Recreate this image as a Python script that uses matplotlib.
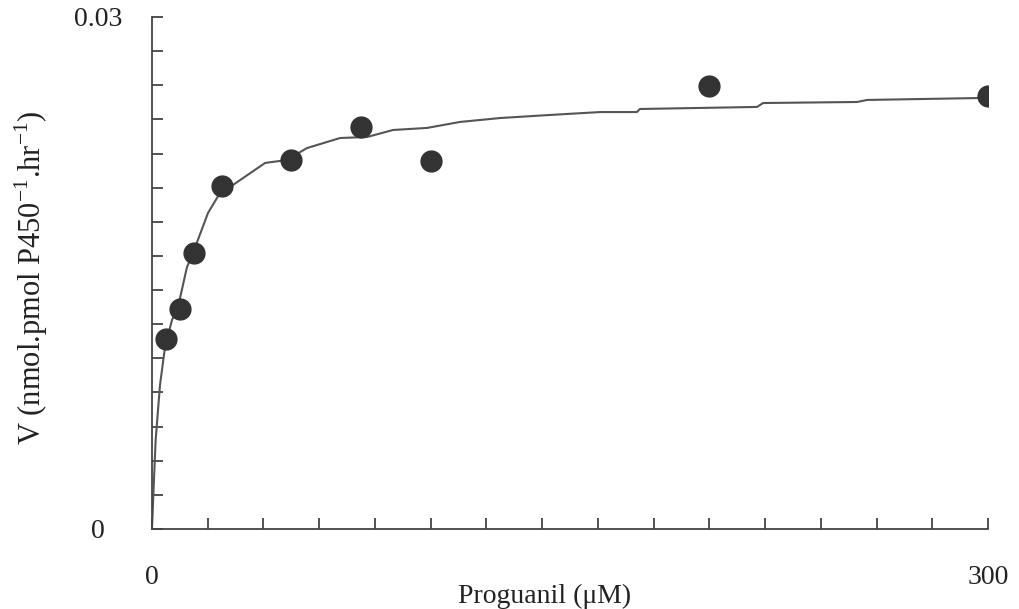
import matplotlib
matplotlib.use('Agg')
import matplotlib.pyplot as plt
import numpy as np

# measured points
conc = [5, 10, 15, 25, 50, 75, 100, 200, 300]
rate = [0.01113, 0.01289, 0.01617, 0.0201, 0.02162, 0.02355, 0.02156, 0.02596, 0.02537]

# fitted curve
fit_x = [0, 0.36, 1.3, 2.87, 4.67, 7.18, 9.33, 12.56, 14.71, 20.1, 24.4, 28.0,
         40.6, 48.4, 55.6, 67.5, 77.2, 86.5, 98.7, 110.5, 124.9, 142.8, 160.8,
         174.0, 175.1, 217.1, 219.3, 253.0, 256.6, 296.0, 299.0]
fit_y = [0, 0.00152, 0.0052, 0.00844, 0.01066, 0.01225, 0.01301, 0.01535, 0.01617,
         0.01852, 0.01969, 0.02004, 0.02145, 0.02162, 0.02232, 0.02291, 0.02297,
         0.02338, 0.0235, 0.02385, 0.02408, 0.02426, 0.02443, 0.02443, 0.02461,
         0.02473, 0.02496, 0.02502, 0.02514, 0.02525, 0.02537]

xticks = np.arange(0, 301, 20)
yticks = np.arange(0, 0.0301, 0.002)

plt.rcParams['font.family'] = ['Liberation Serif', 'DejaVu Serif']
plt.rcParams['mathtext.fontset'] = 'custom'
plt.rcParams['mathtext.rm'] = 'Liberation Serif'

fig = plt.figure(figsize=(10.19, 6.09), dpi=100)
ax = fig.add_axes([152/1019, 1 - 529/609, 836/1019, 512/609])

ax.plot(fit_x, fit_y, color='#555555', lw=1.5, zorder=2)
ax.plot(conc, rate, 'o', color='#333333', ms=15, zorder=3)

ax.set_xlim(0, 300)
ax.set_ylim(0, 0.03)
for s in ['top', 'right']:
    ax.spines[s].set_visible(False)
for s in ['left', 'bottom']:
    ax.spines[s].set_color('#444444')
    ax.spines[s].set_linewidth(1.3)

ax.set_xticks(xticks)
ax.set_xticklabels(['0' if v == 0 else ('300' if v == 300 else '') for v in xticks])
ax.set_yticks(yticks)
ax.set_yticklabels(['0' if i == 0 else ('0.03' if i == len(yticks) - 1 else '')
                    for i in range(len(yticks))])
ax.tick_params(axis='both', direction='in', length=8, width=1.3, color='#444444',
               labelsize=20, labelcolor='#222222')
ax.tick_params(axis='x', pad=26)
ax.tick_params(axis='y', pad=39)
for lab in ax.get_yticklabels():
    lab.set_horizontalalignment('center')

ax.set_xlabel('Proguanil (μM)', fontsize=20, color='#222222')
ax.xaxis.set_label_coords(0.47, -0.107)
ax.set_ylabel('V (nmol.pmol P450$^{\\mathregular{-1}}$.hr$^{\\mathregular{-1}}$)',
              fontsize=22, color='#222222')
ax.yaxis.set_label_coords(-0.122, 0.49)

fig.savefig('out.png', dpi=100, facecolor='white')
